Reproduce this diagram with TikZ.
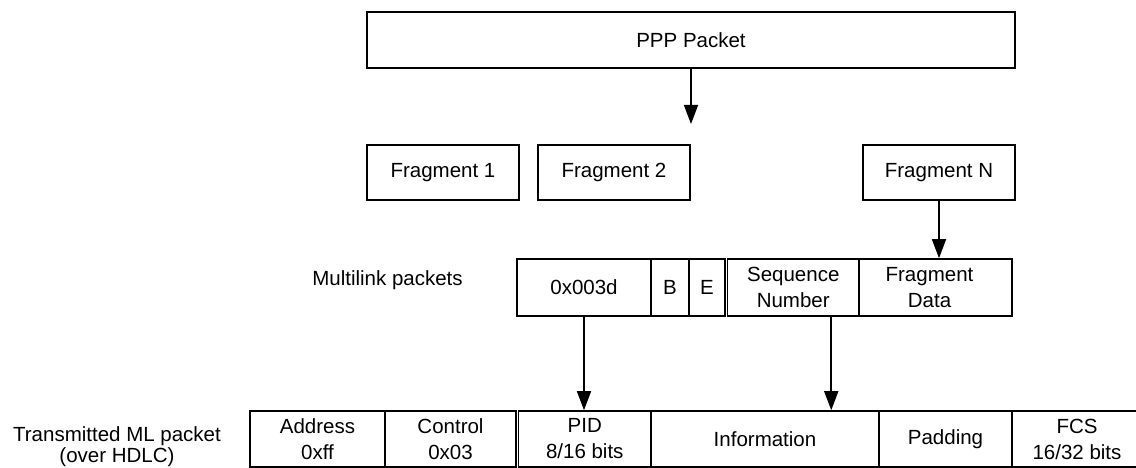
\documentclass[tikz,border=0pt]{standalone}
\usepackage{fontspec}
\setmainfont{Liberation Sans}
\usetikzlibrary{arrows.meta}
\begin{document}
\begin{tikzpicture}[x=1pt,y=-1pt,
  box/.style={draw, line width=1.6pt, inner sep=0pt, align=center,
    font=\fontsize{20.5}{26}\selectfont},
  txt/.style={inner sep=0pt, align=center, font=\fontsize{20.5}{26}\selectfont},
  arr/.style={line width=1.6pt, -{Triangle[length=19pt,width=14pt]}}
]
\useasboundingbox (0,0) rectangle (1136,468);

% original packet
\node[box, minimum width=648pt, minimum height=56pt] (ppp) at (691,40) {PPP Packet};
\coordinate (split) at (691,124);
\draw[arr] (ppp.south) -- (split);

% fragments
\node[box, minimum width=152pt, minimum height=55pt] (f1) at (443,172.5) {Fragment 1};
\node[box, minimum width=152pt, minimum height=55pt] (f2) at (614,172.5) {Fragment 2};
\node[box, minimum width=152pt, minimum height=55pt] (fn) at (939,172.5) {Fragment N};

% multilink packet fields
\node[txt, anchor=base] (mllabel) at (387.5,285) {Multilink packets};
\node[box, minimum width=134pt, minimum height=57pt] (hex) at (584,287.5) {0x003d};
\node[box, minimum width=38pt, minimum height=57pt] (bbit) at (670,287.5) {B};
\node[box, minimum width=36pt, minimum height=57pt] (ebit) at (707,287.5) {E};
\node[box, minimum width=131.5pt, minimum height=57pt] (seq) at (793.25,287.5) {Sequence\\Number};
\node[box, minimum width=153pt, minimum height=57pt] (fd) at (935.5,287.5) {};
\node[txt] (fdtext) at ([xshift=-6pt]fd.center) {Fragment\\Data};

% transmitted HDLC frame
\node[txt, anchor=base, font=\fontsize{20.5}{19}\selectfont] (hdlclabel) at (117,462)
  {Transmitted ML packet\\(over HDLC)};
\node[box, minimum width=135pt, minimum height=56pt] (addr) at (317.5,439) {Address\\0xff};
\node[box, minimum width=131pt, minimum height=56pt] (ctrl) at (450.5,439) {Control\\0x03};
\node[box, minimum width=132.5pt, minimum height=56pt] (pid) at (584.75,439) {PID\\8/16 bits};
\node[box, minimum width=228pt, minimum height=56pt] (info) at (765,439) {Information};
\node[box, minimum width=133pt, minimum height=56pt] (pad) at (945.5,439) {Padding};
\node[box, minimum width=130pt, minimum height=56pt] (fcs) at (1077,439) {FCS\\16/32 bits};

% mapping arrows
\draw[arr] (fn.south) -- (fn.south |- fd.north);
\draw[arr] (hex.south) -- (hex.south |- pid.north);
\draw[arr] ([xshift=38pt]seq.south) -- ([xshift=38pt]seq.south |- info.north);
\end{tikzpicture}
\end{document}
